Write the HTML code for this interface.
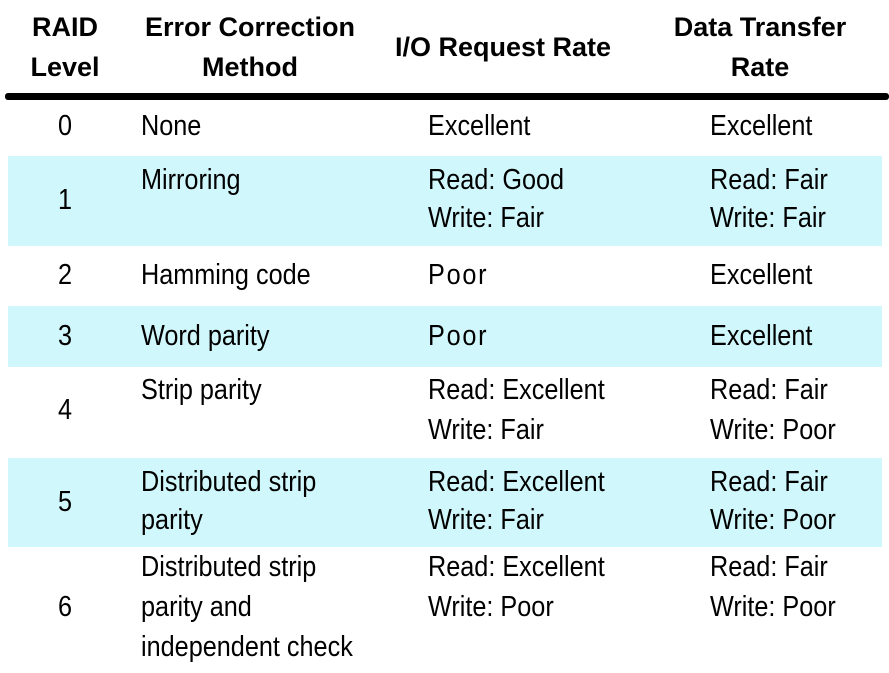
<!DOCTYPE html>
<html><head><meta charset="utf-8"><style>
body{margin:0;width:889px;height:673px;background:#fff;position:relative;overflow:hidden;font-family:"Liberation Sans",Arial,sans-serif;color:#000}
.band{position:absolute;left:8px;width:874px;background:#d0f7fb}
.t{position:absolute;font-size:29px;line-height:40px;height:40px;white-space:nowrap;transform:scaleX(0.87);transform-origin:0 50%}
.c{position:absolute;font-size:29px;line-height:40px;height:40px;white-space:nowrap;text-align:center;width:300px;transform:scaleX(0.87);transform-origin:50% 50%}
.h{font-weight:bold;font-size:27px;transform:scaleX(1.0)}
</style></head><body>
<div class="band" style="top:156px;height:90px"></div>
<div class="band" style="top:306px;height:61px"></div>
<div class="band" style="top:458px;height:89px"></div>
<div style="position:absolute;left:5px;top:93px;width:884px;height:7px;background:#000;border-radius:3px"></div>

<div class="c h" style="left:-85px;top:7px">RAID</div>
<div class="c h" style="left:-85px;top:47px">Level</div>
<div class="c h" style="left:100px;top:7px">Error Correction</div>
<div class="c h" style="left:100px;top:47px">Method</div>
<div class="c h" style="left:353px;top:27px">I/O Request Rate</div>
<div class="c h" style="left:610px;top:7px">Data Transfer</div>
<div class="c h" style="left:610px;top:47px">Rate</div>

<div class="c" style="left:-85px;top:106px">0</div>
<div class="c" style="left:-85px;top:180px">1</div>
<div class="c" style="left:-85px;top:255px">2</div>
<div class="c" style="left:-85px;top:316px">3</div>
<div class="c" style="left:-85px;top:390px">4</div>
<div class="c" style="left:-85px;top:482px">5</div>
<div class="c" style="left:-85px;top:587px">6</div>

<div class="t" style="left:141px;top:106px">None</div>
<div class="t" style="left:141px;top:160px">Mirroring</div>
<div class="t" style="left:141px;top:255px">Hamming code</div>
<div class="t" style="left:141px;top:316px">Word parity</div>
<div class="t" style="left:141px;top:370px">Strip parity</div>
<div class="t" style="left:141px;top:462px">Distributed strip</div>
<div class="t" style="left:141px;top:500px">parity</div>
<div class="t" style="left:141px;top:547px">Distributed strip</div>
<div class="t" style="left:141px;top:587px">parity and</div>
<div class="t" style="left:141px;top:627px">independent check</div>

<div class="t" style="left:428px;top:106px">Excellent</div>
<div class="t" style="left:428px;top:160px">Read: Good</div>
<div class="t" style="left:428px;top:198px">Write: Fair</div>
<div class="t" style="left:428px;top:255px;letter-spacing:2px">Poor</div>
<div class="t" style="left:428px;top:316px;letter-spacing:2px">Poor</div>
<div class="t" style="left:428px;top:370px">Read: Excellent</div>
<div class="t" style="left:428px;top:410px">Write: Fair</div>
<div class="t" style="left:428px;top:462px">Read: Excellent</div>
<div class="t" style="left:428px;top:500px">Write: Fair</div>
<div class="t" style="left:428px;top:547px">Read: Excellent</div>
<div class="t" style="left:428px;top:587px">Write: Poor</div>

<div class="t" style="left:710px;top:106px">Excellent</div>
<div class="t" style="left:710px;top:160px">Read: Fair</div>
<div class="t" style="left:710px;top:198px">Write: Fair</div>
<div class="t" style="left:710px;top:255px">Excellent</div>
<div class="t" style="left:710px;top:316px">Excellent</div>
<div class="t" style="left:710px;top:370px">Read: Fair</div>
<div class="t" style="left:710px;top:410px">Write: Poor</div>
<div class="t" style="left:710px;top:462px">Read: Fair</div>
<div class="t" style="left:710px;top:500px">Write: Poor</div>
<div class="t" style="left:710px;top:547px">Read: Fair</div>
<div class="t" style="left:710px;top:587px">Write: Poor</div>
</body></html>
